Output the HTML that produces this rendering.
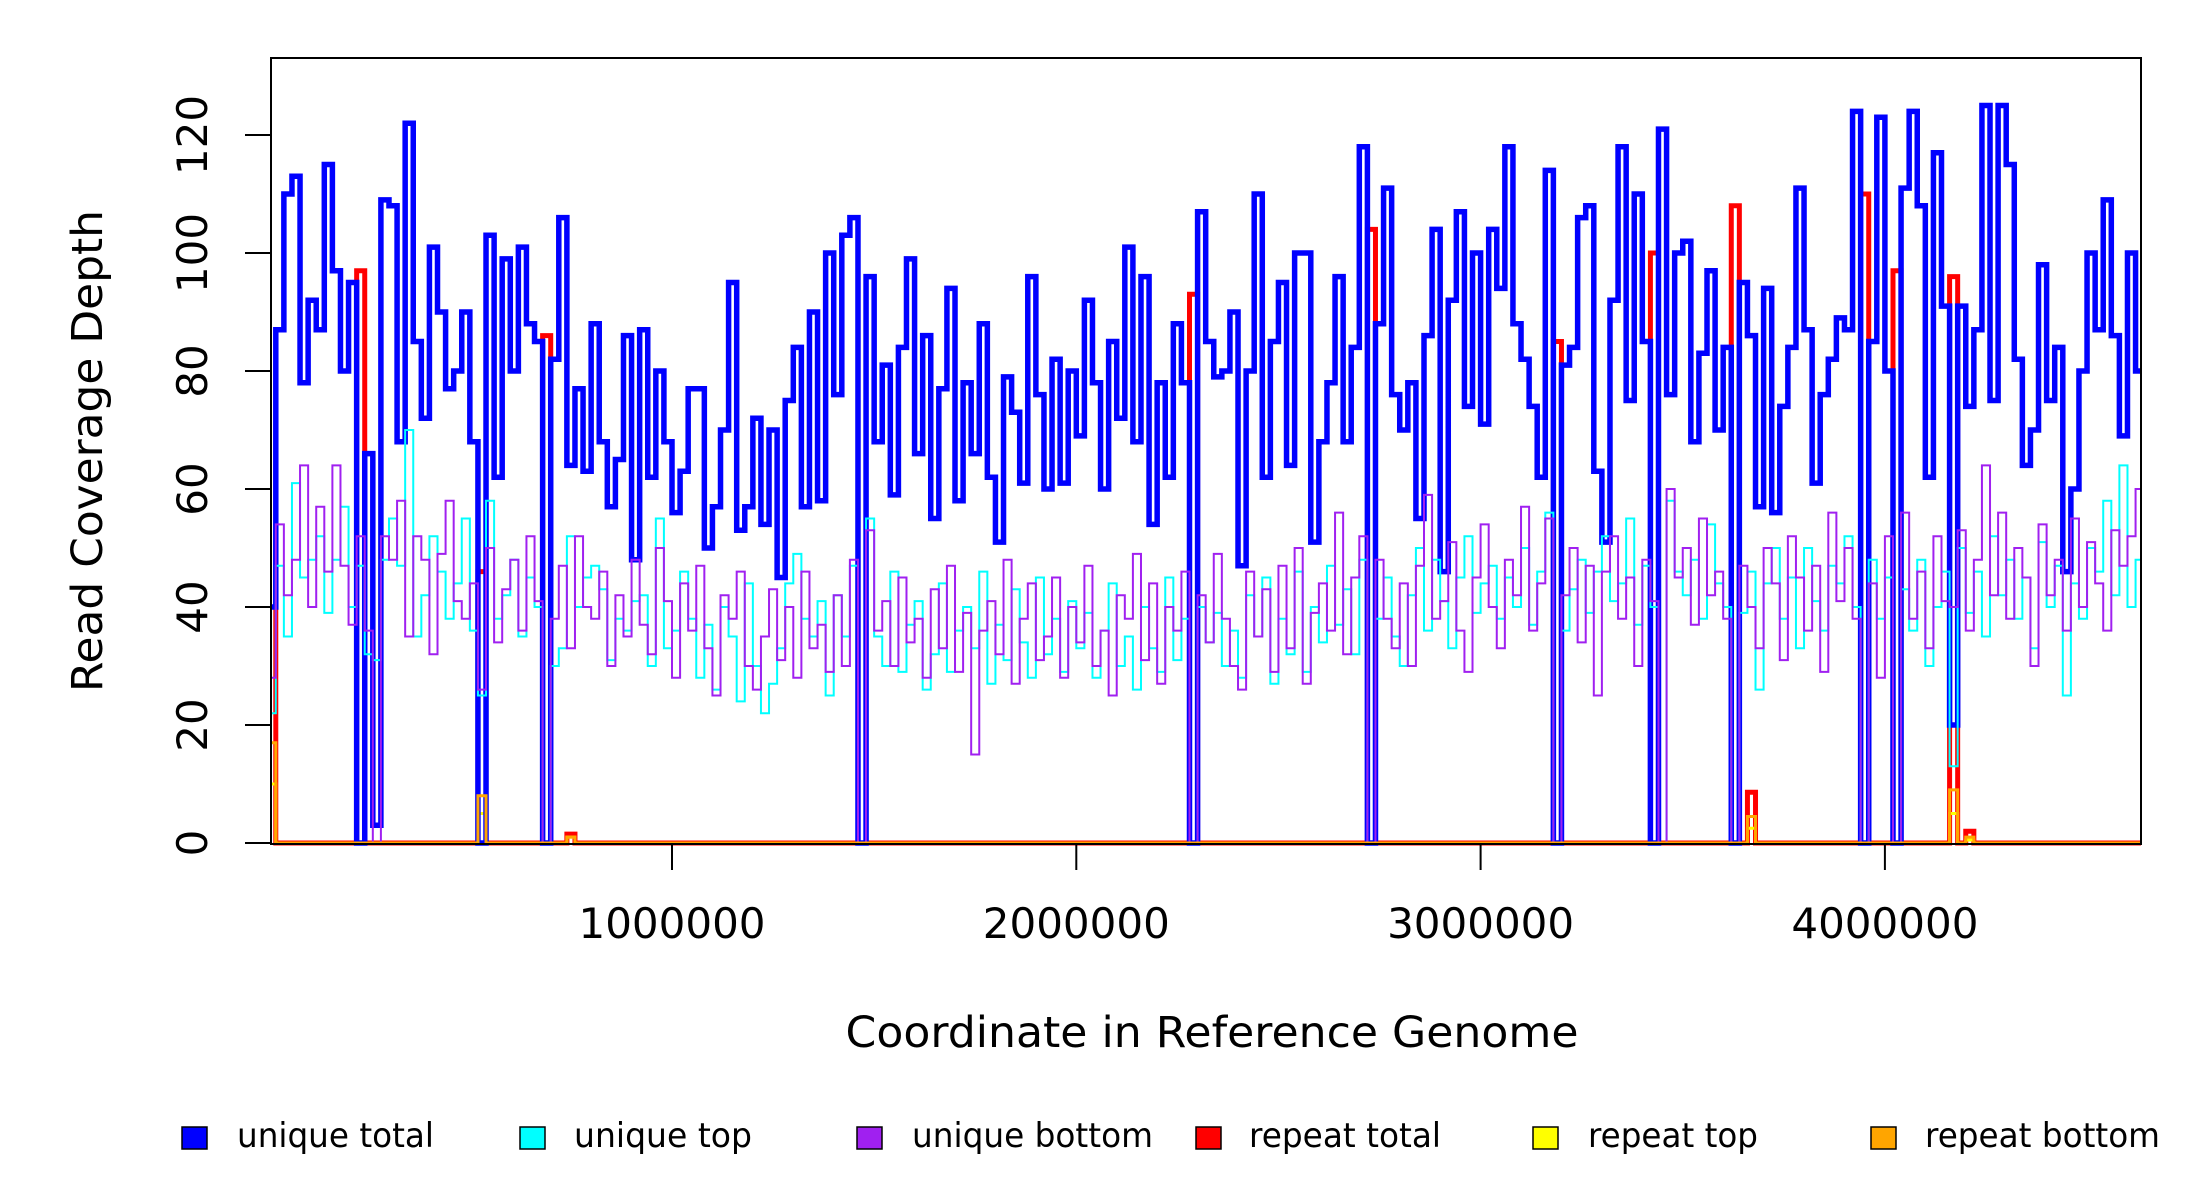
<!DOCTYPE html>
<html><head><meta charset="utf-8"><style>
html,body{margin:0;padding:0;background:#fff;}
svg{display:block;font-family:"DejaVu Sans","Liberation Sans",sans-serif;}
</style></head><body>
<svg id="chart" width="2200" height="1200" viewBox="0 0 2200 1200" xmlns="http://www.w3.org/2000/svg">
<defs><clipPath id="plotclip"><rect x="271" y="58" width="1870" height="790"/></clipPath></defs>
<rect x="0" y="0" width="2200" height="1200" fill="#fff"/>
<g id="series" clip-path="url(#plotclip)"></g>
<rect x="271" y="58" width="1870" height="786" fill="none" stroke="#000" stroke-width="2"/>
<g id="yaxis"></g>
<g id="xaxis"></g>
<text transform="translate(102,451) rotate(-90)" text-anchor="middle" font-size="43" textLength="482" lengthAdjust="spacingAndGlyphs">Read Coverage Depth</text>
<text x="1212" y="1047" text-anchor="middle" font-size="43" textLength="733" lengthAdjust="spacingAndGlyphs">Coordinate in Reference Genome</text>
<g font-size="34">
<g><rect x="182" y="1127" width="25" height="22" fill="#0000ff" stroke="#000" stroke-width="1.5"/><text x="237" y="1147" textLength="197" lengthAdjust="spacingAndGlyphs">unique total</text></g>
<g><rect x="520" y="1127" width="25" height="22" fill="#00ffff" stroke="#000" stroke-width="1.5"/><text x="574" y="1147" textLength="178" lengthAdjust="spacingAndGlyphs">unique top</text></g>
<g><rect x="857" y="1127" width="25" height="22" fill="#a020f0" stroke="#000" stroke-width="1.5"/><text x="912" y="1147" textLength="241" lengthAdjust="spacingAndGlyphs">unique bottom</text></g>
<g><rect x="1196" y="1127" width="25" height="22" fill="#ff0000" stroke="#000" stroke-width="1.5"/><text x="1249" y="1147" textLength="192" lengthAdjust="spacingAndGlyphs">repeat total</text></g>
<g><rect x="1533" y="1127" width="25" height="22" fill="#ffff00" stroke="#000" stroke-width="1.5"/><text x="1588" y="1147" textLength="170" lengthAdjust="spacingAndGlyphs">repeat top</text></g>
<g><rect x="1871" y="1127" width="25" height="22" fill="#ffa500" stroke="#000" stroke-width="1.5"/><text x="1925" y="1147" textLength="235" lengthAdjust="spacingAndGlyphs">repeat bottom</text></g>
</g>
</svg>
<script>
const binSize = 20000;
const uniqueTotal = [40,87,110,113,78,92,87,115,97,80,95,0,66,3,109,108,68,122,85,72,101,90,77,80,90,68,0,103,62,99,80,101,88,85,0,82,106,64,77,63,88,68,57,65,86,48,87,62,80,68,56,63,77,77,50,57,70,95,53,57,72,54,70,45,75,84,57,90,58,100,76,103,106,0,96,68,81,59,84,99,66,86,55,77,94,58,78,66,88,62,51,79,73,61,96,76,60,82,61,80,69,92,78,60,85,72,101,68,96,54,78,62,88,78,0,107,85,79,80,90,47,80,110,62,85,95,64,100,100,51,68,78,96,68,84,118,0,88,111,76,70,78,55,86,104,46,92,107,74,100,71,104,94,118,88,82,74,62,114,0,81,84,106,108,63,51,92,118,75,110,85,0,121,76,100,102,68,83,97,70,84,0,95,86,57,94,56,74,84,111,87,61,76,82,89,87,124,0,85,123,80,0,111,124,108,62,117,91,20,91,74,87,125,75,125,115,82,64,70,98,75,84,46,60,80,100,87,109,86,69,100,80];
const uniqueTop = [22,47,35,61,45,48,52,39,48,57,40,47,32,31,48,55,47,70,35,42,52,46,38,44,55,36,25,58,38,42,48,35,45,40,0,30,33,52,40,45,47,43,31,38,36,41,42,30,55,33,36,46,38,28,37,26,40,35,24,44,30,22,27,33,44,49,38,35,41,25,42,35,47,0,55,35,30,46,29,37,41,26,32,44,29,36,40,33,46,27,37,31,43,34,28,45,32,38,29,41,33,39,28,36,44,30,35,26,40,33,29,45,31,38,0,40,34,39,30,36,28,42,35,45,27,38,32,46,29,40,34,47,37,43,32,48,0,38,45,35,30,42,50,36,48,41,33,45,52,39,44,47,38,45,40,50,37,46,56,0,36,43,48,39,46,52,41,44,55,37,47,40,0,58,46,42,48,38,54,44,40,0,39,46,26,44,50,38,45,33,50,41,36,47,44,52,40,0,48,38,45,0,43,36,48,30,40,46,13,50,39,46,35,52,42,48,38,45,33,51,40,47,25,44,38,50,46,58,42,64,40,48];
const uniqueBottom = [28,54,42,48,64,40,57,46,64,47,37,52,36,0,52,48,58,35,52,48,32,49,58,41,38,44,26,50,34,43,48,36,52,41,0,38,47,33,52,40,38,46,30,42,35,48,37,32,50,41,28,44,36,47,33,25,42,38,46,30,26,35,43,31,40,28,46,33,37,29,42,30,48,0,53,36,41,30,45,34,38,28,43,33,47,29,39,15,36,41,32,48,27,38,44,31,35,45,28,40,34,47,30,36,25,42,38,49,31,44,27,40,36,46,0,42,34,49,38,30,26,46,35,43,29,47,33,50,27,39,44,36,56,32,45,52,0,48,38,33,44,30,47,59,38,41,51,36,29,45,54,40,33,48,42,57,36,44,55,0,42,50,34,47,25,46,52,38,45,30,48,41,0,60,45,50,37,55,42,46,38,0,47,40,33,50,44,31,52,45,36,47,29,56,41,50,38,0,44,28,52,0,56,38,46,33,52,41,40,53,36,48,64,42,56,38,50,45,30,54,42,48,36,55,40,51,44,36,53,47,52,60];
const repeatBins = [0,11,26,34,37,114,136,159,171,181,183,197,201,208,210];
const repeatTotalVals = [40,97,46,86,1.5,93,104,85,100,108,8.6,110,97,96,2];
const repeatTopVals = [10,0,5,0,1,0,0,0,0,0,2.5,0,0,5,0.5];
const repeatBottomVals = [17,0,8,0,1,0,0,0,0,0,4.5,0,0,9,1];
const xTicks = [1000000,2000000,3000000,4000000];
const xTickLabels = ["1000000","2000000","3000000","4000000"];
const yTicks = [0,20,40,60,80,100,120];
const yTickLabels = ["0","20","40","60","80","100","120"];

const NS = "http://www.w3.org/2000/svg";
function xs(v){ return 267.7 + v * 404.3e-6; }
function ys(v){ return 843 - v * 5.9; }
const nBins = uniqueTotal.length;
function expand(bins, vals){
  const a = new Array(nBins).fill(0);
  bins.forEach((b,i)=>{ a[b] = vals[i]; });
  return a;
}
function stepPath(vals){
  let d = "";
  for (let i = 0; i < vals.length; i++){
    const x0 = xs(i*binSize), x1 = xs((i+1)*binSize), y = ys(vals[i]);
    d += (i === 0 ? "M" : "L") + x0.toFixed(2) + "," + y.toFixed(2) + "L" + x1.toFixed(2) + "," + y.toFixed(2);
  }
  return d;
}
const seriesG = document.getElementById("series");
function addSeries(vals, color, width, name){
  const p = document.createElementNS(NS, "path");
  p.setAttribute("d", stepPath(vals));
  p.setAttribute("fill", "none");
  p.setAttribute("stroke", color);
  p.setAttribute("stroke-width", width);
  p.setAttribute("stroke-linejoin", "miter");
  
  
  seriesG.appendChild(p);
}
addSeries(expand(repeatBins, repeatTotalVals), "#ff0000", 5, "repeat-total-line");
addSeries(expand(repeatBins, repeatTopVals), "#ffff00", 3, "repeat-top-line");
addSeries(uniqueTotal, "#0000ff", 5.5, "unique-total-line");
addSeries(uniqueTop, "#00ffff", 2, "unique-top-line");
addSeries(uniqueBottom, "#a020f0", 2, "unique-bottom-line");
addSeries(expand(repeatBins, repeatBottomVals), "#ffa500", 3, "repeat-bottom-line");

const yG = document.getElementById("yaxis");
yTicks.forEach((t,i)=>{
  const l = document.createElementNS(NS, "line");
  l.setAttribute("x1", 245); l.setAttribute("x2", 271);
  l.setAttribute("y1", ys(t)); l.setAttribute("y2", ys(t));
  l.setAttribute("stroke", "#000"); l.setAttribute("stroke-width", 2);
  
  
  yG.appendChild(l);
  const tx = document.createElementNS(NS, "text");
  tx.setAttribute("transform", "translate(207," + ys(t) + ") rotate(-90)");
  tx.setAttribute("text-anchor", "middle");
  tx.setAttribute("font-size", "42");
  tx.textContent = yTickLabels[i];
  
  
  yG.appendChild(tx);
});
const xG = document.getElementById("xaxis");
xTicks.forEach((t,i)=>{
  const l = document.createElementNS(NS, "line");
  l.setAttribute("x1", xs(t)); l.setAttribute("x2", xs(t));
  l.setAttribute("y1", 844); l.setAttribute("y2", 870);
  l.setAttribute("stroke", "#000"); l.setAttribute("stroke-width", 2);
  
  
  xG.appendChild(l);
  const tx = document.createElementNS(NS, "text");
  tx.setAttribute("x", xs(t)); tx.setAttribute("y", 938);
  tx.setAttribute("text-anchor", "middle");
  tx.setAttribute("font-size", "42");
  tx.textContent = xTickLabels[i];
  
  
  xG.appendChild(tx);
});
</script>
</body></html>
